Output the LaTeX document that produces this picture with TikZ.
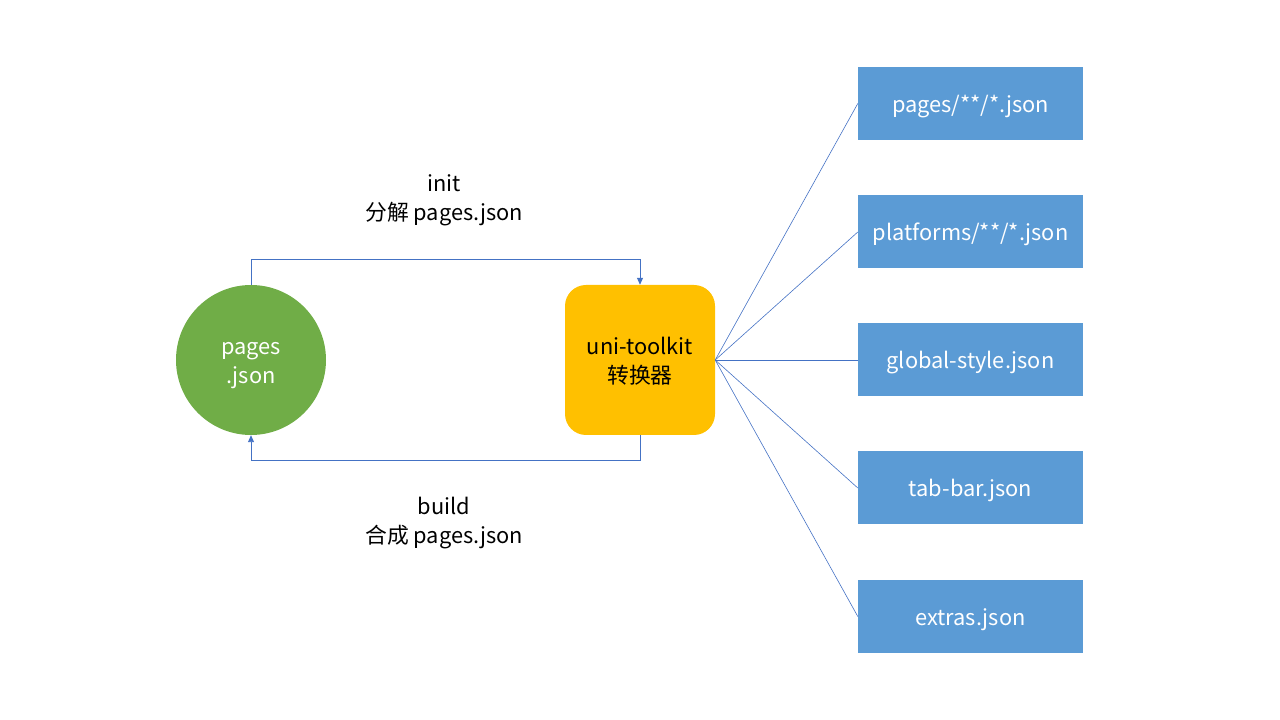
\documentclass[tikz,border=0pt]{standalone}
\usepackage{fontspec}
\setmainfont{Noto Sans CJK SC}
\usetikzlibrary{arrows.meta}
\definecolor{leafgreen}{HTML}{70AD47}
\definecolor{ambergold}{HTML}{FFC000}
\definecolor{skyblue}{HTML}{5B9BD5}
\definecolor{linkblue}{HTML}{4472C4}
\begin{document}
\begin{tikzpicture}[x=1pt,y=1pt]

% size of the target boxes
\def\bw{225pt}
\def\bh{73pt}
% strut that sits the text a little lower in the shapes
\def\tstrut{\rule[-0.3\baselineskip]{0pt}{\dimexpr\baselineskip+6pt\relax}}
% node style definition
\tikzstyle{source} = [
	circle, fill=leafgreen, draw=none, text=white,
	minimum size=150pt, align=center, inner sep=0pt ];
\tikzstyle{tool} = [
	rectangle, rounded corners=21pt, fill=ambergold, draw=none,
	minimum width=150pt, minimum height=150pt, align=center ];
\tikzstyle{target} = [
	rectangle, fill=skyblue, draw=none, text=white,
	minimum width=\bw, minimum height=\bh,
	execute at begin node=\tstrut ];
\tikzstyle{plain} = [draw=none,fill=none,align=center];
\tikzstyle{link} = [draw=linkblue, line width=0.9pt,
	-{Triangle[length=7pt,width=6pt]}];
\tikzstyle{spoke} = [draw=linkblue, line width=0.6pt];

\useasboundingbox (0,0) rectangle (1280,720);
\fontsize{21.8}{29}\selectfont

\node[source] (pg) at (251,360) {\tstrut pages\\\strut .json};
\node[tool] (tk) at (640,360) {\tstrut uni-toolkit\\\strut 转换器};

\node[target] (f1) at (970.5,616.5) {pages/**/*.json};
\node[target] (f2) at (970.5,488) {platforms/**/*.json};
\node[target] (f3) at (970.5,360) {global-style.json};
\node[target] (f4) at (970.5,232) {tab-bar.json};
\node[target] (f5) at (970.5,103.5) {extras.json};

\node[plain] (init) at (444,520) {\strut init\\\strut 分解 pages.json};
\node[plain] (build) at (444,197) {\strut build\\\strut 合成 pages.json};

\draw[link] (pg.north) -- ++(0,25) -| (tk.north);
\draw[link] (tk.south) -- ++(0,-25) -| (pg.south);

\foreach \i in {1,...,5}
	\draw[spoke] (tk.east) -- (f\i.west);

\end{tikzpicture}
\end{document}
